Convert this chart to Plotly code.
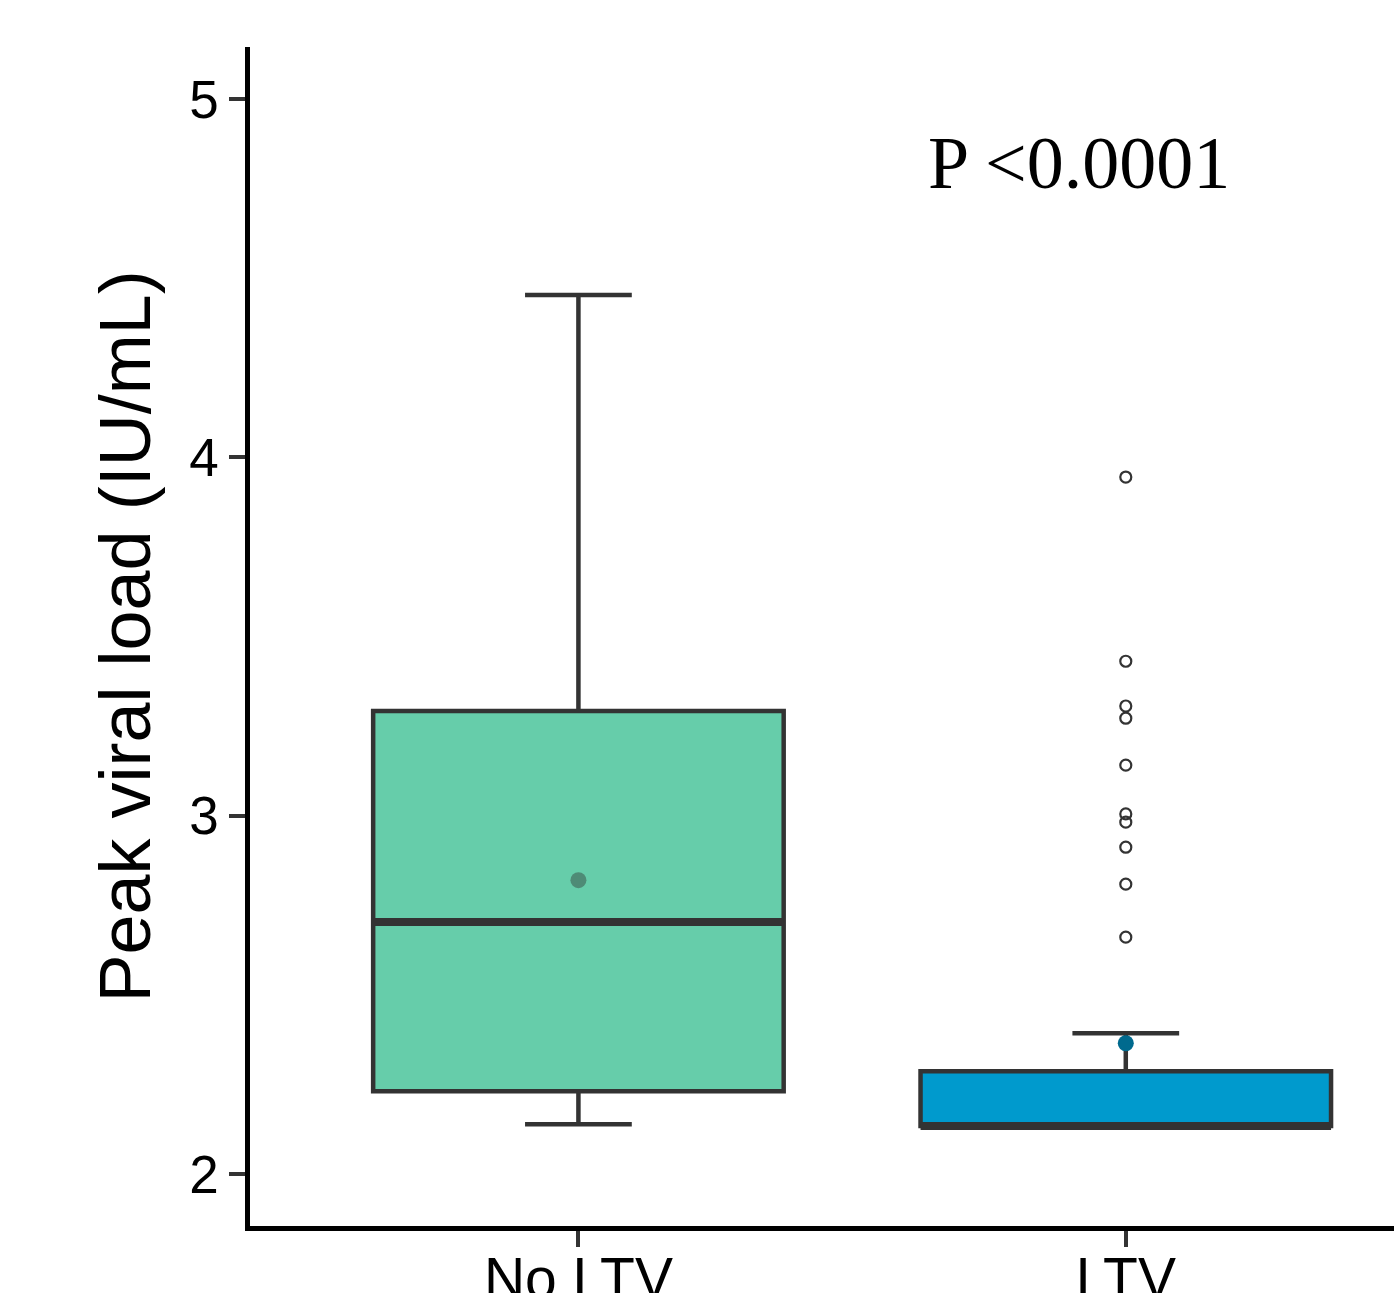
import plotly.graph_objects as go

categories = ["No LTV", "LTV"]
xpos = [0, 1]
q1 = [2.231, 2.134]
median = [2.703, 2.134]
q3 = [3.292, 2.287]
lowerfence = [2.139, 2.134]
upperfence = [4.453, 2.393]
means = [2.82, 2.365]
ltv_outliers = [3.945, 3.431, 3.306, 3.272, 3.141, 3.005, 2.982, 2.912, 2.809, 2.661]

fills = ["#66CDAA", "#009ACD"]
mean_colors = ["#4E8B76", "#006A8E"]
box_w = 0.75

fig = go.Figure()
for i in range(2):
    fig.add_trace(go.Box(
        x=[xpos[i]], q1=[q1[i]], median=[median[i]], q3=[q3[i]],
        lowerfence=[lowerfence[i]], upperfence=[upperfence[i]],
        width=box_w, whiskerwidth=0.26, fillcolor=fills[i],
        line=dict(color="#333333", width=4.5), boxpoints=False,
        showlegend=False, hoverinfo="skip",
    ))
    fig.add_trace(go.Scatter(
        x=[xpos[i] - box_w / 2, xpos[i] + box_w / 2], y=[median[i], median[i]],
        mode="lines", line=dict(color="#333333", width=8), showlegend=False,
        hoverinfo="skip",
    ))
    fig.add_trace(go.Scatter(
        x=[xpos[i]], y=[means[i]], mode="markers",
        marker=dict(color=mean_colors[i], size=16), showlegend=False,
    ))

fig.add_trace(go.Scatter(
    x=[xpos[1]] * len(ltv_outliers), y=ltv_outliers, mode="markers",
    marker=dict(symbol="circle-open", size=11, color="#333333", line=dict(width=2.2)),
    showlegend=False,
))

fig.add_annotation(
    x=0.914, y=4.82, xref="x", yref="y", text="P <0.0001", showarrow=False,
    font=dict(family="Liberation Serif", size=74, color="black"),
)

fig.update_layout(
    width=1394, height=1293,
    margin=dict(l=250, r=0, t=47, b=67, autoexpand=False),
    paper_bgcolor="white", plot_bgcolor="white",
    font=dict(family="Liberation Sans, Arial", color="black"),
)
fig.update_xaxes(
    range=[-0.6, 1.49], tickvals=xpos, ticktext=categories, automargin=False,
    showline=True, linecolor="black", linewidth=4.5, showgrid=False, zeroline=False,
    ticks="outside", ticklen=16, tickwidth=4, tickcolor="#333333",
    tickfont=dict(size=57, color="black"), ticklabelstandoff=-17,
)
fig.update_yaxes(
    range=[1.855, 5.145], tickvals=[2, 3, 4, 5], automargin=False,
    showline=True, linecolor="black", linewidth=4.5, showgrid=False, zeroline=False,
    ticks="outside", ticklen=16, tickwidth=4, tickcolor="#333333",
    tickfont=dict(size=53, color="black"),
    title=dict(text="Peak viral load (IU/mL)", font=dict(size=72, color="black"), standoff=16),
)

fig.write_html(
    "out.html",
    config={"displayModeBar": False},
    post_script="document.body.style.margin='0';document.body.style.overflow='hidden';",
)
